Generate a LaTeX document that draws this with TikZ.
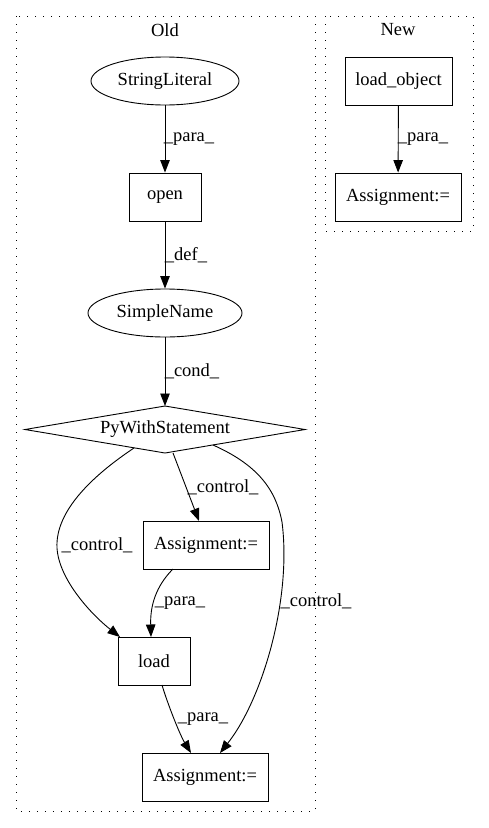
\documentclass[tikz,border=0pt]{standalone}
\usepackage{fontspec}
\setmainfont{Liberation Serif}
\usetikzlibrary{shapes.geometric,arrows.meta}
\begin{document}
\begin{tikzpicture}[x=1pt,y=-1pt,
  every node/.style={font=\fontsize{18.5}{21}\selectfont},
  boxnode/.style={draw,rectangle,minimum height=48pt,inner sep=0pt,line width=0.9pt},
  ellnode/.style={draw,ellipse,minimum height=48pt,inner sep=0pt,line width=0.9pt},
  shapeline/.style={draw,line width=0.9pt},
  cluster/.style={draw,line width=0.9pt,dash pattern=on 1.2pt off 6.8pt},
  edge/.style={draw,line width=0.9pt,-{Triangle[length=12.5pt,width=9.5pt]}},
  lbl/.style={inner sep=0pt}]
\useasboundingbox (0,0) rectangle (488,828);
% clusters
\draw[cluster] (16,16) rectangle (315,811);
\draw[cluster] (325,16) rectangle (473,231);
\node[lbl] (oldlbl) at (165,30) {Old};
\node[lbl] (newlbl) at (398,30) {New};
% Old nodes
\node[ellnode,minimum width=148pt] (sl) at (165,81) {StringLiteral};
\node[boxnode,minimum width=72pt] (open) at (165,197) {open};
\node[ellnode,minimum width=154pt] (sn) at (165,313) {SimpleName};
\node[lbl] (pws) at (165,429.5) {PyWithStatement};
\draw[shapeline] (25,429.5) -- (165,406) -- (305,429.5) -- (165,453) -- cycle;
\node[boxnode,minimum width=126pt] (asg1) at (206,545) {Assignment:=};
\node[boxnode,minimum width=72pt] (load) at (154,661) {load};
\node[boxnode,minimum width=126pt] (asg2) at (205,777) {Assignment:=};
% New nodes
\node[boxnode,minimum width=107pt] (lo) at (398.5,81) {load\_object};
\node[boxnode,minimum width=126pt] (asg3) at (398,197) {Assignment:=};
% edges
\draw[edge] (sl) -- (open);
\node[lbl] (l1) at (189,139) {\_para\_};
\draw[edge] (open) -- (sn);
\node[lbl] (l2) at (186,255) {\_def\_};
\draw[edge] (sn.south) -- (165,406);
\node[lbl] (l3) at (192,371) {\_cond\_};
\draw[edge] (173,453) -- (199,521);
\node[lbl] (l4) at (223,487) {\_control\_};
\draw[edge] (134,448) .. controls (95,474) and (55,510) .. (57,548)
   .. controls (59,580) and (92,615) .. (120,637);
\node[lbl] (l5) at (97,545) {\_control\_};
\draw[edge] (213,445) .. controls (258,465) and (276,490) .. (282,522)
   .. controls (292,600) and (262,700) .. (220,753);
\node[lbl] (l6) at (316,601) {\_control\_};
\draw[edge] (173,569) .. controls (160,582) and (150,600) .. (151,637);
\node[lbl] (l7) at (180,603) {\_para\_};
\draw[edge] (162,685) .. controls (168,705) and (180,735) .. (191,753);
\node[lbl] (l8) at (203,719) {\_para\_};
\draw[edge] (lo) -- (asg3);
\node[lbl] (l9) at (423,139) {\_para\_};
\end{tikzpicture}
\end{document}
